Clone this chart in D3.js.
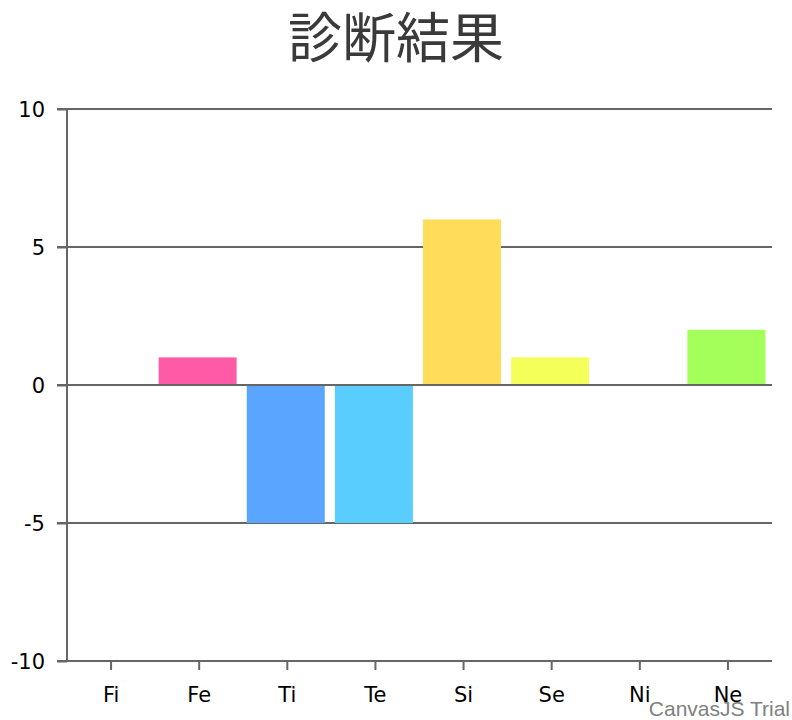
<!DOCTYPE html>
<html>
<head>
<meta charset="utf-8">
<script src="https://cdn.jsdelivr.net/npm/d3@7"></script>
<style>
html,body{margin:0;padding:0;background:#fff;}
svg{display:block;}
</style>
</head>
<body>
<svg id="chart" width="792" height="720"></svg>
<script>
const title = "診断結果";
const categories = ["Fi", "Fe", "Ti", "Te", "Si", "Se", "Ni", "Ne"];
const values = [0, 1, -5, -5, 6, 1, 0, 2];
const colors = ["#A55AFF", "#FF5AA5", "#5AA5FF", "#5ACDFF", "#FFDC5A", "#F5FF5A", "#5AFFA5", "#A5FF5A"];
const yTicks = [-10, -5, 0, 5, 10];
const yDomain = [-10, 10];

const svg = d3.select("#chart");
const margin = {left: 67, right: 20, top: 109, bottom: 59};
const W = 792, H = 720;
const xc = d3.scaleBand().domain(categories).range([margin.left, W - margin.right]);
const y = d3.scaleLinear().domain(yDomain).range([H - margin.bottom, margin.top]);
const barW = xc.bandwidth() * 0.885;
const barOff = xc.bandwidth() * 0.04;

const lineColor = "#666666";
const tickFont = "'DejaVu Sans', sans-serif";

// Title
svg.append("text")
  .attr("x", 396).attr("y", 58)
  .attr("text-anchor", "middle")
  .attr("font-family", "'Noto Sans CJK JP', sans-serif")
  .attr("font-size", 54)
  .attr("fill", "#3A3A3A")
  .text(title);

// Gridlines
svg.append("g").selectAll("line").data(yTicks.filter(t => t !== yDomain[0]))
  .join("line")
  .attr("x1", margin.left - 10).attr("x2", W - margin.right)
  .attr("y1", d => y(d)).attr("y2", d => y(d))
  .attr("stroke", lineColor).attr("stroke-width", 2);

// Bars
svg.append("g").selectAll("rect").data(categories.map((c, i) => ({c, v: values[i], col: colors[i]})))
  .join("rect")
  .attr("x", d => xc(d.c) + barOff)
  .attr("width", barW)
  .attr("y", d => y(Math.max(0, d.v)))
  .attr("height", d => Math.abs(y(d.v) - y(0)))
  .attr("fill", d => d.col);

// Zero line on top
svg.append("line")
  .attr("x1", margin.left).attr("x2", W - margin.right)
  .attr("y1", y(0)).attr("y2", y(0))
  .attr("stroke", lineColor).attr("stroke-width", 2);

// Y axis
const yAxis = d3.axisLeft(y).tickValues(yTicks).tickSize(10).tickPadding(12).tickFormat(d => String(d));
const gy = svg.append("g").attr("transform", `translate(${margin.left},0)`).call(yAxis);
gy.select(".domain").attr("stroke", lineColor).attr("stroke-width", 2).attr("d", `M0,${y(yDomain[0])}V${y(yDomain[1])}`);
gy.selectAll(".tick line").attr("stroke", lineColor).attr("stroke-width", 2);
gy.selectAll(".tick text").attr("font-family", tickFont).attr("font-size", 21).attr("fill", "#000").attr("dy", "0.36em");

// X axis
const xAxis = d3.axisBottom(xc).tickSize(9).tickPadding(17);
const gx = svg.append("g").attr("transform", `translate(0,${y(yDomain[0])})`).call(xAxis);
gx.select(".domain").attr("stroke", lineColor).attr("stroke-width", 2).attr("d", `M${margin.left - 10},0H${W - margin.right}`);
gx.selectAll(".tick line").attr("stroke", lineColor).attr("stroke-width", 2);
gx.selectAll(".tick text").attr("font-family", tickFont).attr("font-size", 21).attr("fill", "#000");

// Watermark
svg.append("text")
  .attr("x", 790).attr("y", 716)
  .attr("text-anchor", "end")
  .attr("font-family", "'Liberation Sans', Arial, sans-serif")
  .attr("font-size", 21)
  .attr("fill", "#808080")
  .text("CanvasJS Trial");
</script>
</body>
</html>
